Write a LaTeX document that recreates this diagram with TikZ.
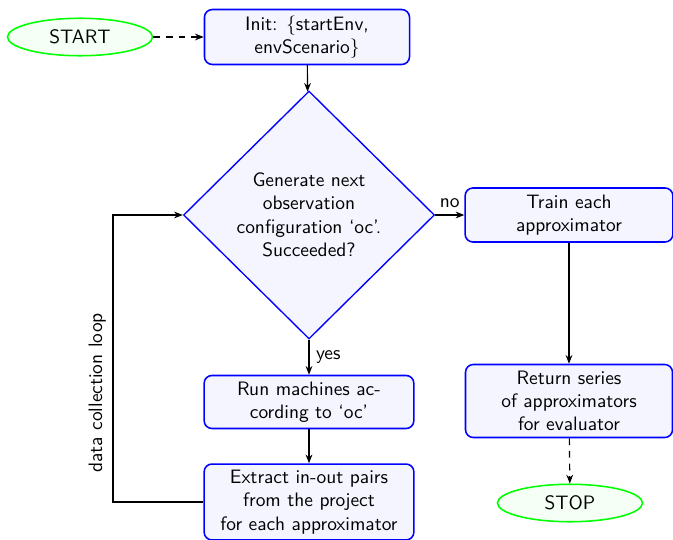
\documentclass[tikz,border=0pt]{standalone}
\usetikzlibrary{shapes.geometric,arrows.meta}
\renewcommand{\familydefault}{\sfdefault}
\begin{document}
\begin{tikzpicture}[x=0.515pt,y=-0.515pt,
  font=\sffamily,
  blockbox/.style={draw=blue,fill=blue!4,line width=0.8pt,rounded corners=4pt,align=center,inner sep=1pt},
  termbox/.style={draw=green,fill=green!4,line width=0.8pt,ellipse,inner sep=1pt,minimum width=74.7pt,minimum height=19.3pt},
  decbox/.style={draw=blue,fill=blue!4,line width=0.7pt,diamond,align=center,inner sep=0pt,minimum width=129.3pt,minimum height=127.7pt},
  conn/.style={draw=black,line width=0.6pt,-{Stealth[length=4.5pt,width=3.5pt]}},
  dconn/.style={conn,dash pattern=on 3.5pt off 3pt}]
\useasboundingbox (0,0) rectangle (673,540);
\node[termbox] (start) at (80,37) {START};
\node[blockbox,minimum width=105.6pt,minimum height=28.3pt] (init) at (307,37) {Init: \{startEnv,\\ envScenario\}};
\node[decbox] (dec) at (309,215) {Generate next\\ observation\\ configuration `oc'.\\ Succeeded?};
\node[blockbox,minimum width=107pt,minimum height=27.8pt] (train) at (569,215) {Train each\\ approximator};
\node[blockbox,minimum width=106.6pt,minimum height=37.6pt] (ret) at (569,401) {Return series\\ of approximators\\ for evaluator};
\node[termbox] (stop) at (570,503) {STOP};
\node[blockbox,minimum width=108pt,minimum height=27.3pt] (run) at (309,402) {Run machines ac-\\ cording to `oc'};
\node[blockbox,minimum width=108pt,minimum height=39.1pt] (extract) at (309,502) {Extract in-out pairs\\ from the project\\ for each approximator};
\coordinate (lb) at (113,502);
\coordinate (lt) at (113,215);
\draw[dconn] (start) -- (init);
\draw[conn] (init) -- (dec);
\draw[conn] (dec) -- node[above] {no} (train);
\draw[conn] (dec) -- node[right] {yes} (run);
\draw[conn] (run) -- (extract);
\draw[conn] (train) -- (ret);
\draw[dconn] (ret) -- (stop);
\draw[conn] (extract.west) -- (lb) -- node[pos=0.38,sloped,above] {data collection loop} (lt) -- (dec.west);
\end{tikzpicture}
\end{document}
